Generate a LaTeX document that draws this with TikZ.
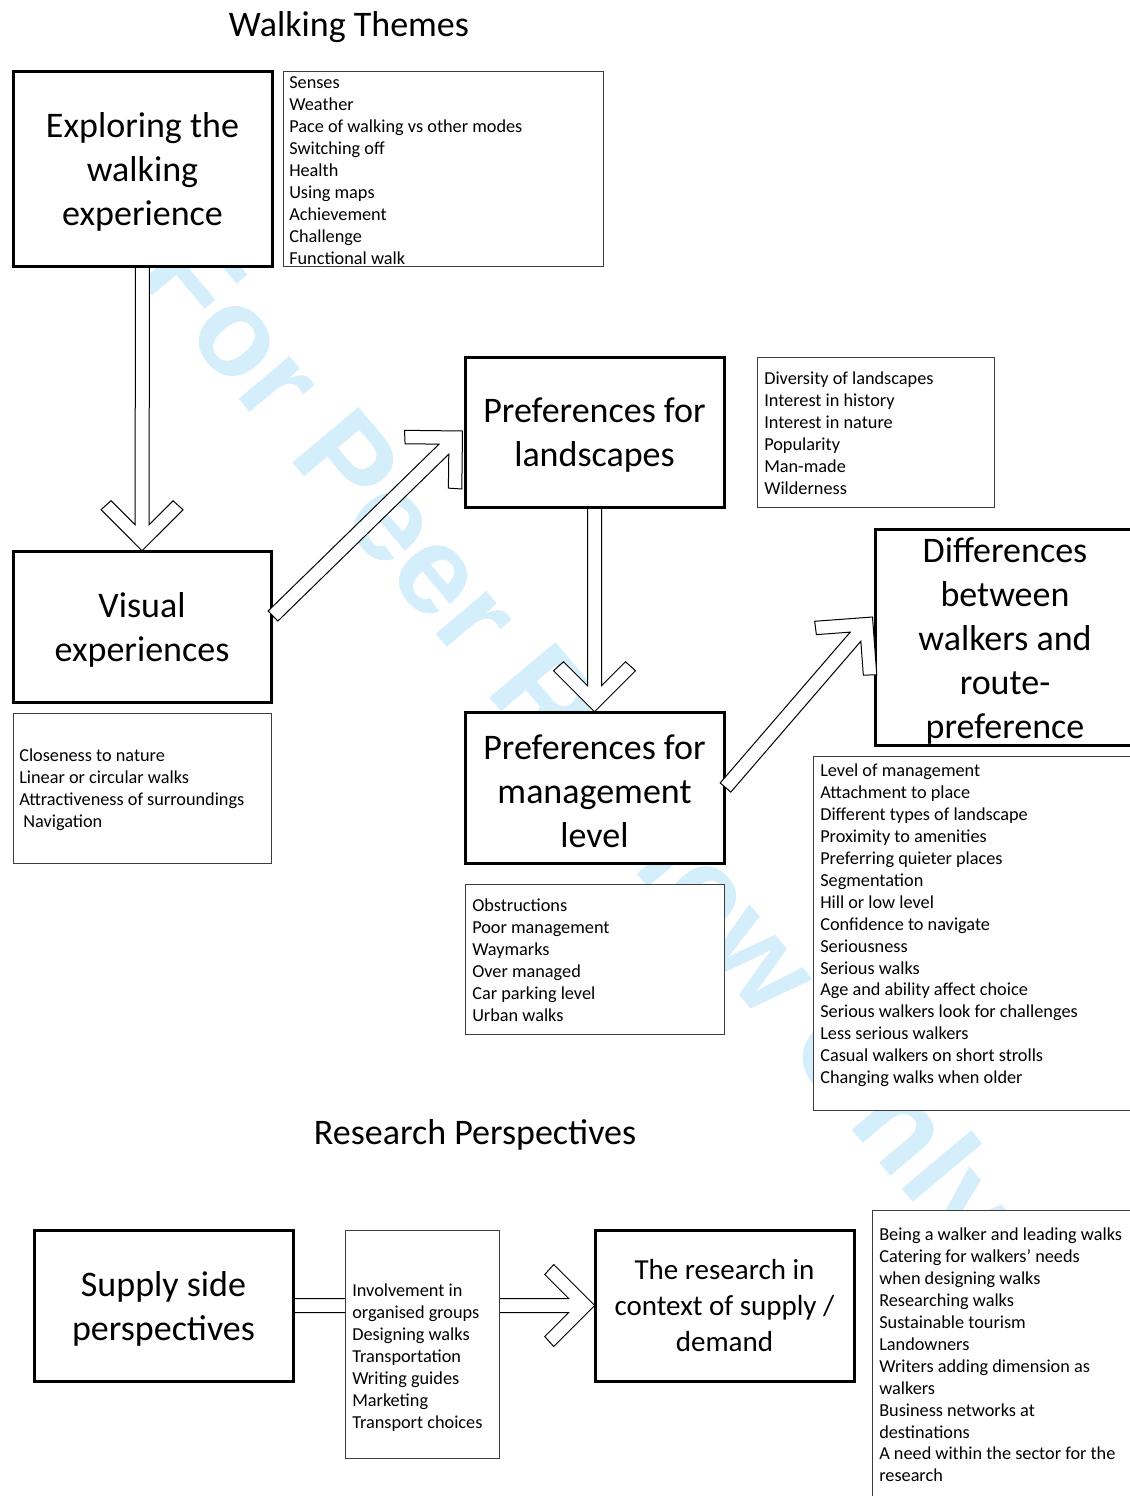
\documentclass[tikz,border=0pt]{standalone}
\usepackage{fontspec}
\setmainfont{Carlito}
\newfontfamily\wmfont{Liberation Sans}
\usetikzlibrary{calc}
\definecolor{wmblue}{RGB}{212,238,251}
\definecolor{thingray}{RGB}{60,60,60}
\newcommand\bigf{\fontsize{27}{33}\selectfont}
\newcommand\midf{\fontsize{21.75}{27}\selectfont}
\newcommand\smallf{\fontsize{13.7}{16.45}\selectfont}
\makeatletter
\newcommand\blockarrow[2]{%
  \pgfpointdiff{\pgfpointanchor{#1}{center}}{\pgfpointanchor{#2}{center}}%
  \edef\badx{\the\pgf@x}\edef\bady{\the\pgf@y}%
  \pgfmathsetmacro\balen{veclen(\badx,\bady)/0.75}%
  \pgfmathsetmacro\baang{atan2(\bady,\badx)}%
  \begin{scope}[shift={(#2)}, rotate=\baang]
    \draw[barrow] (-\balen,7) -- (-26,7) -- (-50,31) -- (-41,41) -- (0,0)
      -- (-41,-41) -- (-50,-31) -- (-26,-7) -- (-\balen,-7) -- cycle;
  \end{scope}}
\makeatother
\tikzset{
  bigbox/.style={draw=black, line width=2.25pt, fill=white, inner sep=0pt},
  listbox/.style={draw=thingray, line width=0.75pt, fill=white, inner sep=0pt},
  listtext/.style={anchor=north west, inner sep=0pt, align=left, font=\smallf},
  bigtext/.style={inner sep=0pt, align=center, font=\bigf},
  midtext/.style={inner sep=0pt, align=center, font=\midf},
  barrow/.style={draw=black, line width=0.75pt, fill=white, line join=miter},
  sz/.style 2 args={minimum width=#1*0.75pt, minimum height=#2*0.75pt},
  wm/.style={inner sep=0pt, text=wmblue, rotate=-50, font=\wmfont\bfseries\fontsize{94}{94}\selectfont},
}
\begin{document}
\begin{tikzpicture}[x=0.75pt, y=-0.75pt]
\useasboundingbox (0,0) rectangle (1130,1496);
\fill[white] (0,0) rectangle (1130,1496);
\clip (0,0) rectangle (1130,1496);

% watermark
\node[wm] (wmk) at (574,748) {For Peer Review Only};

% titles
\node[bigtext] (t1) at (349,27.5) {Walking Themes};
\node[bigtext] (t2) at (475,1135) {Research Perspectives};

% main box positions
\path (142.5,168.5) coordinate (pexp) (142,626.5) coordinate (pvis)
      (594.5,432) coordinate (pland) (594.5,787.5) coordinate (pmgmt)
      (163.5,1305.5) coordinate (psup) (724.5,1305.5) coordinate (pres);
\begin{scope}[overlay]
\node[sz={259}{195}] (exp0) at (pexp) {};
\node[sz={258}{151}] (vis0) at (pvis) {};
\node[sz={259}{150}] (land0) at (pland) {};
\node[sz={259}{151}] (mgmt0) at (pmgmt) {};
\node[sz={259}{151}] (sup0) at (psup) {};
\node[sz={259}{151}] (res0) at (pres) {};
\end{scope}

% arrows drawn beneath the boxes
\coordinate (a1t) at (exp0.south); \coordinate (a1h) at (vis0.north);
\coordinate (a3t) at (land0.south); \coordinate (a3h) at (mgmt0.north);
\coordinate (a5t) at (sup0.east); \coordinate (a5h) at (res0.west);
\blockarrow{a1t}{a1h}
\blockarrow{a3t}{a3h}
\blockarrow{a5t}{a5h}

% boxes
\node[bigbox, sz={259}{195}] (exp) at (pexp) {};
\node[bigtext] (expt) at ($(exp.center)+(0,3.5)$) {Exploring the\\walking\\experience};
\node[listbox, sz={320}{195}] (senses) at (443,168.5) {};
\node[listtext] (sensest) at (289,73) {\strut Senses\\Weather\\Pace of walking vs other modes\\Switching off\\Health\\Using maps\\Achievement\\Challenge\\Functional walk};

\node[bigbox, sz={258}{151}] (vis) at (pvis) {};
\node[bigtext] (vist) at ($(vis.center)+(0,3.5)$) {Visual\\experiences};
\node[listbox, sz={258}{150}] (vislist) at (142,788) {};
\node[listtext] (vislistt) at (19,746) {\strut Closeness to nature\\Linear or circular walks\\Attractiveness of surroundings\\\ Navigation};

\node[bigbox, sz={259}{150}] (land) at (pland) {};
\node[bigtext] (landt) at ($(land.center)+(0,3.5)$) {Preferences for\\landscapes};
\node[listbox, sz={237}{150}] (landlist) at (875.5,432) {};
\node[listtext] (landlistt) at (764,369) {\strut Diversity of landscapes\\Interest in history\\Interest in nature\\Popularity\\Man-made\\Wilderness};

\node[bigbox, sz={259}{216}] (diff) at (1004.5,637) {};
\node[bigtext] (difft) at ($(diff.center)+(0.5,3.5)$) {Differences\\between\\walkers and\\route-\\preference};

\node[bigbox, sz={259}{151}] (mgmt) at (pmgmt) {};
\node[bigtext] (mgmtt) at ($(mgmt.center)+(0,3.5)$) {Preferences for\\management\\level};
\node[listbox, sz={259}{150}] (mgmtlist) at (594.5,959) {};
\node[listtext] (mgmtlistt) at (472,896) {\strut Obstructions\\Poor management\\Waymarks\\Over managed\\Car parking level\\Urban walks};

\node[listbox, sz={321}{354}] (difflist) at (973.5,933) {};
\node[listtext] (difflistt) at (820,761) {\strut Level of management\\Attachment to place\\Different types of landscape\\Proximity to amenities\\Preferring quieter places\\Segmentation\\Hill or low level\\Confidence to navigate\\Seriousness\\Serious walks\\Age and ability affect choice\\Serious walkers look for challenges\\Less serious walkers\\Casual walkers on short strolls\\Changing walks when older};

\node[bigbox, sz={259}{151}] (sup) at (psup) {};
\node[bigtext] (supt) at ($(sup.center)+(0,3)$) {Supply side\\perspectives};
\node[listbox, sz={154}{228}] (suplist) at (422,1344) {};
\node[listtext] (suplistt) at (352,1281) {\strut Involvement in\\organised groups\\Designing walks\\Transportation\\Writing guides\\Marketing\\Transport choices};

\node[bigbox, sz={259}{151}] (res) at (pres) {};
\node[midtext] (rest) at ($(res.center)+(0,0.5)$) {The research in\\context of supply /\\demand};
\node[listbox, sz={262}{300}] (lastlist) at (1003,1360) {};
\node[listtext] (lastlistt) at (879,1225) {\strut Being a walker and leading walks\\Catering for walkers’ needs\\when designing walks\\Researching walks\\Sustainable tourism\\Landowners\\Writers adding dimension as\\walkers\\Business networks at\\destinations\\A need within the sector for the\\research};

% diagonal arrows drawn over the boxes
\coordinate (a2t) at ($(vis.east)+(0.5,-10.5)$); \coordinate (a2h) at ($(land.west)+(-1,-1)$);
\coordinate (a4t) at (mgmt.east); \coordinate (a4h) at ($(diff.west)+(-1,-20)$);
\blockarrow{a2t}{a2h}
\blockarrow{a4t}{a4h}
\end{tikzpicture}
\end{document}
